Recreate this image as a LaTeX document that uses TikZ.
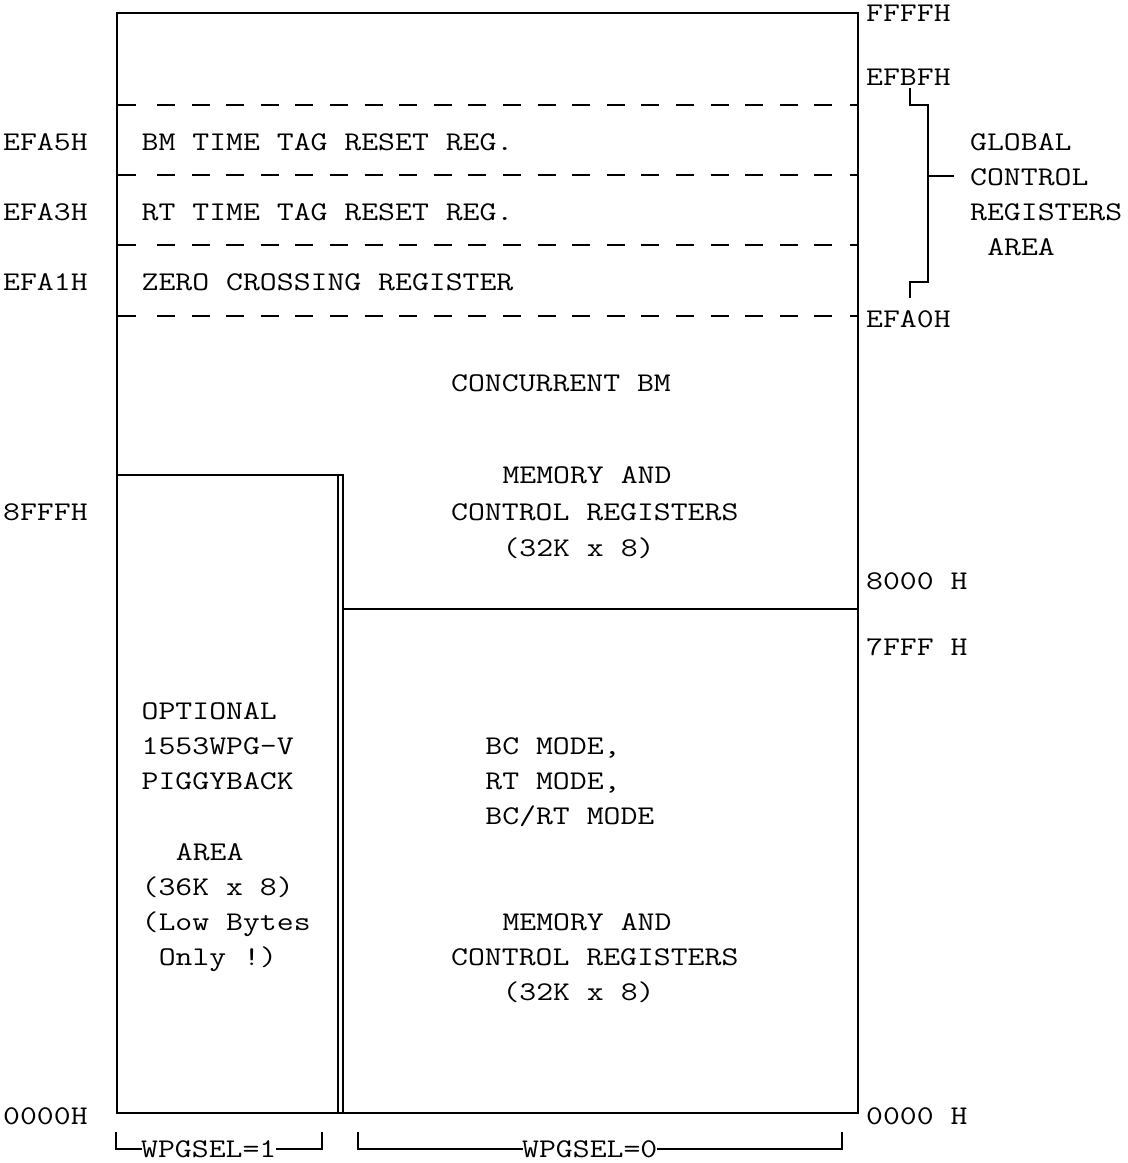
\documentclass[tikz,border=0pt]{standalone}
\usepackage{fontspec}
\newfontfamily\courfont[FakeStretch=1.215]{Latin Modern Mono}
\begin{document}
\begin{tikzpicture}[x=1pt,y=-1pt,
  txt/.style={inner sep=0pt, anchor=base west, font=\courfont\fontsize{27}{34}\selectfont},
  ln/.style={line width=1.9pt, line cap=rect},
  dln/.style={line width=1.9pt, dash pattern=on 18pt off 16.6pt}]
\useasboundingbox (0,0) rectangle (1128,1163);

% ---------- outer box ----------
\draw[ln] (117,13) -- (858,13);
\draw[ln] (117,13) -- (117,1113) -- (858,1113);
\draw[ln] (858,13) -- (858,1113);

% ---------- dashed register rows ----------
\foreach \yy in {105,175,245,316}{
  \draw[ln] (117,\yy) -- (135,\yy);
  \draw[dln] (157,\yy) -- (833,\yy);
  \draw[ln] (851,\yy) -- (858,\yy);
}

% ---------- piggyback box ----------
\draw[ln] (117,475) -- (343,475) -- (343,1113);
\draw[ln] (338,475) -- (338,1113);
\draw[ln] (343,609) -- (858,609);

% ---------- left address labels ----------
\node[txt] (aEFA5) at (3,150) {EFA5H};
\node[txt] (aEFA3) at (3,220) {EFA3H};
\node[txt] (aEFA1) at (3,290) {EFA1H};
\node[txt] (a8FFF) at (3,520) {8FFFH};
\node[txt] (a0000l) at (3,1124) {0000H};

% ---------- right address labels ----------
\node[txt] (aFFFF) at (866,21) {FFFFH};
\node[txt] (aEFBF) at (866,85) {EFBFH};
\node[txt] (aEFA0) at (866,327) {EFA0H};
\node[txt] (a8000) at (866,589) {8000 H};
\node[txt] (a7FFF) at (866,655) {7FFF H};
\node[txt] (a0000r) at (866,1124) {0000 H};

% ---------- register names ----------
\node[txt] (rBM) at (141.5,150) {BM TIME TAG RESET REG.};
\node[txt] (rRT) at (141.5,220) {RT TIME TAG RESET REG.};
\node[txt] (rZC) at (141.5,290) {ZERO CROSSING REGISTER};

% ---------- global control registers bracket ----------
\coordinate (g1) at (910,89);
\coordinate (g2) at (928,105);
\coordinate (g3) at (928,282);
\coordinate (g4) at (910,297);
\node[txt] (gGLOBAL) at (970,150) {GLOBAL};
\node[txt] (gCONTROL) at (970,185) {CONTROL};
\node[txt] (gREG) at (970,220) {REGISTERS};
\node[txt] (gAREA) at (987.1,255) {AREA};
\draw[ln] (g1) |- (g2) -- (g3) -| (g4);
\coordinate (gm) at (928,176);
\draw[ln] (gm) -- (953,176);

% ---------- upper area text ----------
\node[txt] (tConc) at (451,391) {CONCURRENT BM};
\node[txt] (tMem1) at (502.3,483) {MEMORY AND};
\node[txt] (tCtl1) at (451,520) {CONTROL REGISTERS};
\node[txt] (tSz1)  at (502.3,556) {(32K x 8)};

% ---------- piggyback text ----------
\node[txt] (pOpt)  at (141.5,719) {OPTIONAL};
\node[txt] (pWPG)  at (141.5,754) {1553WPG-V};
\node[txt] (pPig)  at (141.5,789) {PIGGYBACK};
\node[txt] (pArea) at (175.7,860) {AREA};
\node[txt] (pSz)   at (141.5,895) {(36K x 8)};
\node[txt] (pLow)  at (141.5,930) {(Low Bytes};
\node[txt] (pOnly) at (158.6,965) {Only !)};

% ---------- lower area text ----------
\node[txt] (tBC)   at (485.2,754) {BC MODE,};
\node[txt] (tRT)   at (485.2,789) {RT MODE,};
\node[txt] (tBCRT) at (485.2,824) {BC/RT MODE};
\node[txt] (tMem2) at (502.3,930) {MEMORY AND};
\node[txt] (tCtl2) at (451,965) {CONTROL REGISTERS};
\node[txt] (tSz2)  at (502.3,1000) {(32K x 8)};

% ---------- WPGSEL brackets ----------
\node[txt] (w1) at (141,1157) {WPGSEL=1};
\node[txt] (w0) at (522,1157) {WPGSEL=0};
\coordinate (b1l) at (116,1133);
\coordinate (b1r) at (322,1133);
\coordinate (b0l) at (358,1133);
\coordinate (b0r) at (842,1133);
\draw[ln] (b1l) -- (116,1149) -- (w1.west |- 0,1149);
\draw[ln] (w1.east |- 0,1149) -- (322,1149) -- (b1r);
\draw[ln] (b0l) -- (358,1149) -- (w0.west |- 0,1149);
\draw[ln] (w0.east |- 0,1149) -- (842,1149) -- (b0r);
\end{tikzpicture}
\end{document}
